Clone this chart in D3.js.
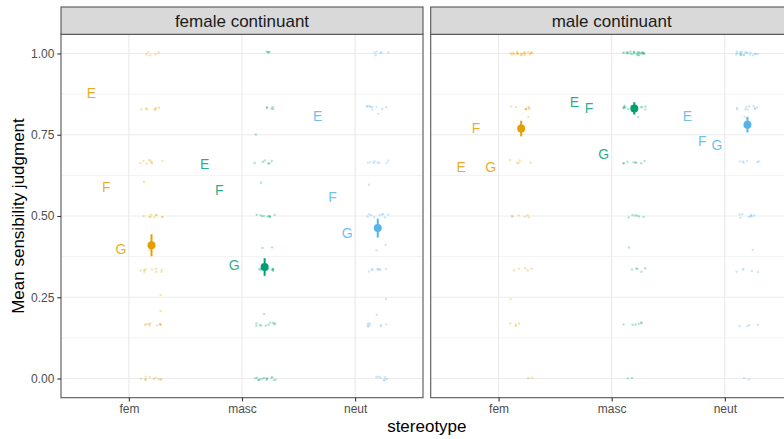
<!DOCTYPE html>
<html>
<head>
<meta charset="utf-8">
<script src="https://cdn.jsdelivr.net/npm/d3@7"></script>
<style>
  body { margin: 0; background: #fff; }
  svg { display: block; font-family: "Liberation Sans", Arial, sans-serif; }
</style>
</head>
<body>
<svg id="chart" width="784" height="439"></svg>
<script>
// ---------------- data ----------------
const panels = ["female continuant", "male continuant"];
const stereotypes = ["fem", "masc", "neut"];
const labelLetters = ["E", "F", "G"];
const yTicks = [0, 0.25, 0.5, 0.75, 1];
const levels = [0, 1/6, 1/3, 1/2, 2/3, 5/6, 1];

// per-item (E, F, G) mean judgments, by panel then stereotype
const femaleLabelValues = {fem: [0.878, 0.590, 0.398], masc: [0.659, 0.579, 0.349], neut: [0.809, 0.559, 0.449]};
const maleLabelValues   = {fem: [0.651, 0.770, 0.651], masc: [0.851, 0.831, 0.690], neut: [0.809, 0.730, 0.720]};

// estimated means and interval bounds
const femaleMeans = [0.410, 0.343, 0.463];
const femaleLower = [0.376, 0.316, 0.434];
const femaleUpper = [0.444, 0.370, 0.492];
const maleMeans   = [0.769, 0.831, 0.781];
const maleLower   = [0.745, 0.812, 0.757];
const maleUpper   = [0.793, 0.850, 0.805];

// participant means: counts at each level (0, 1/6, 1/3, 1/2, 2/3, 5/6, 1)
const femaleCounts = {fem: [10, 9, 9, 9, 8, 7, 5], masc: [14, 10, 12, 9, 6, 5, 4], neut: [7, 8, 8, 9, 8, 9, 6]};
const maleCounts   = {fem: [2, 4, 5, 6, 5, 8, 20], masc: [2, 6, 5, 6, 8, 14, 24], neut: [2, 4, 5, 8, 5, 10, 20]};
// participant means that fall between the levels
const femaleExtra = {fem: [0.61, 0.40, 0.26, 0.21], masc: [0.75, 0.60, 0.40, 0.40, 0.20], neut: [0.60, 0.40, 0.41, 0.25, 0.20, 0.81]};
const maleExtra   = {fem: [0.80, 0.25], masc: [0.40, 0.80], neut: [0.40, 0.67, 0.80]};

const colors = {fem: "#E69F00", masc: "#009E73", neut: "#56B4E9"};

// ---------------- layout ----------------
const svg = d3.select("#chart");
const panelTop = 34.3, panelBottom = 397.7;
const panelW = 362, gap = 7.7, left0 = 61;
const stripTop = 7;

const y = d3.scaleLinear().domain([-0.059, 1.059]).range([panelBottom, panelTop]);
const rng = d3.randomLcg(0.4217);
const jitterX = d3.randomUniform.source(rng)(-0.1, 0.1);
const jitterY = d3.randomUniform.source(rng)(-0.006, 0.006);

const panelData = [
  {name: panels[0], labels: femaleLabelValues, means: femaleMeans, lower: femaleLower, upper: femaleUpper, counts: femaleCounts, extra: femaleExtra},
  {name: panels[1], labels: maleLabelValues, means: maleMeans, lower: maleLower, upper: maleUpper, counts: maleCounts, extra: maleExtra}
];

const labelOffsets = [-0.33, -0.2, -0.07];
const pointOffset = 0.2;

panelData.forEach((pd, pi) => {
  const x0 = left0 + pi * (panelW + gap), x1 = x0 + panelW;
  const x = d3.scalePoint().domain(stereotypes).range([x0, x1]).padding(0.6);
  const step = x.step();
  const g = svg.append("g");

  g.append("rect").attr("x", x0).attr("y", panelTop).attr("width", panelW).attr("height", panelBottom - panelTop).attr("fill", "#fff");

  // minor gridlines
  const minor = yTicks.slice(0, -1).map((t, i) => (t + yTicks[i + 1]) / 2);
  g.selectAll(".minor").data(minor).join("line")
    .attr("x1", x0).attr("x2", x1).attr("y1", d => y(d)).attr("y2", d => y(d))
    .attr("stroke", "#F0F0F0").attr("stroke-width", 0.9);
  // major gridlines
  g.selectAll(".majory").data(yTicks).join("line")
    .attr("x1", x0).attr("x2", x1).attr("y1", d => y(d)).attr("y2", d => y(d))
    .attr("stroke", "#EBEBEB").attr("stroke-width", 1.2);
  g.selectAll(".majorx").data(stereotypes).join("line")
    .attr("x1", d => x(d)).attr("x2", d => x(d)).attr("y1", panelTop).attr("y2", panelBottom)
    .attr("stroke", "#EBEBEB").attr("stroke-width", 1.2);

  // jittered participant points
  stereotypes.forEach(s => {
    const pts = [];
    pd.counts[s].forEach((c, li) => { for (let k = 0; k < c; k++) pts.push(levels[li]); });
    pd.extra[s].forEach(v => pts.push(v));
    g.append("g").selectAll("circle").data(pts).join("circle")
      .attr("cx", () => x(s) + (pointOffset + jitterX()) * step)
      .attr("cy", d => y(d + jitterY()))
      .attr("r", 1.2)
      .attr("fill", colors[s])
      .attr("opacity", 0.3);
  });

  // item labels
  stereotypes.forEach(s => {
    g.append("g").selectAll("text").data(pd.labels[s]).join("text")
      .attr("x", (d, i) => x(s) + labelOffsets[i] * step)
      .attr("y", d => y(d))
      .attr("dy", "0.36em")
      .attr("text-anchor", "middle")
      .attr("font-size", 14)
      .attr("fill", colors[s])
      .attr("fill-opacity", 0.85)
      .text((d, i) => labelLetters[i]);
  });

  // point ranges
  stereotypes.forEach((s, i) => {
    const cx = x(s) + pointOffset * step;
    g.append("line").attr("x1", cx).attr("x2", cx)
      .attr("y1", y(pd.lower[i])).attr("y2", y(pd.upper[i]))
      .attr("stroke", colors[s]).attr("stroke-width", 2);
    g.append("circle").attr("cx", cx).attr("cy", y(pd.means[i])).attr("r", 4).attr("fill", colors[s]);
  });

  // panel border
  g.append("rect").attr("x", x0).attr("y", panelTop).attr("width", panelW).attr("height", panelBottom - panelTop)
    .attr("fill", "none").attr("stroke", "#555").attr("stroke-width", 1.1);

  // strip
  g.append("rect").attr("x", x0).attr("y", stripTop).attr("width", panelW).attr("height", panelTop - stripTop)
    .attr("fill", "#D9D9D9").attr("stroke", "#555").attr("stroke-width", 1.1);
  g.append("text").attr("x", (x0 + x1) / 2).attr("y", (stripTop + panelTop) / 2).attr("dy", "0.36em")
    .attr("text-anchor", "middle").attr("font-size", 17).attr("fill", "#1A1A1A").text(pd.name);

  // x axis
  const xa = g.append("g").attr("transform", `translate(0,${panelBottom})`)
    .call(d3.axisBottom(x).tickSize(3.7).tickPadding(3));
  xa.select(".domain").remove();
  xa.selectAll("line").attr("stroke", "#333").attr("stroke-width", 1.1);
  xa.selectAll("text").attr("font-size", 12).attr("fill", "#4D4D4D").attr("font-family", "Liberation Sans, Arial, sans-serif");

  if (pi === 0) {
    const ya = g.append("g").attr("transform", `translate(${x0},0)`)
      .call(d3.axisLeft(y).tickValues(yTicks).tickFormat(d3.format(".2f")).tickSize(3.7).tickPadding(3));
    ya.select(".domain").remove();
    ya.selectAll("line").attr("stroke", "#333").attr("stroke-width", 1.1);
    ya.selectAll("text").attr("font-size", 12).attr("fill", "#4D4D4D").attr("font-family", "Liberation Sans, Arial, sans-serif");
  }
});

// axis titles
svg.append("text").attr("x", left0 + panelW + gap / 2).attr("y", 426).attr("dy", "0.36em")
  .attr("text-anchor", "middle").attr("font-size", 17).attr("fill", "#000").text("stereotype");
svg.append("text").attr("transform", `translate(18,${(panelTop + panelBottom) / 2}) rotate(-90)`)
  .attr("dy", "0.36em").attr("text-anchor", "middle").attr("font-size", 17).attr("fill", "#000")
  .text("Mean sensibility judgment");
</script>
</body>
</html>
